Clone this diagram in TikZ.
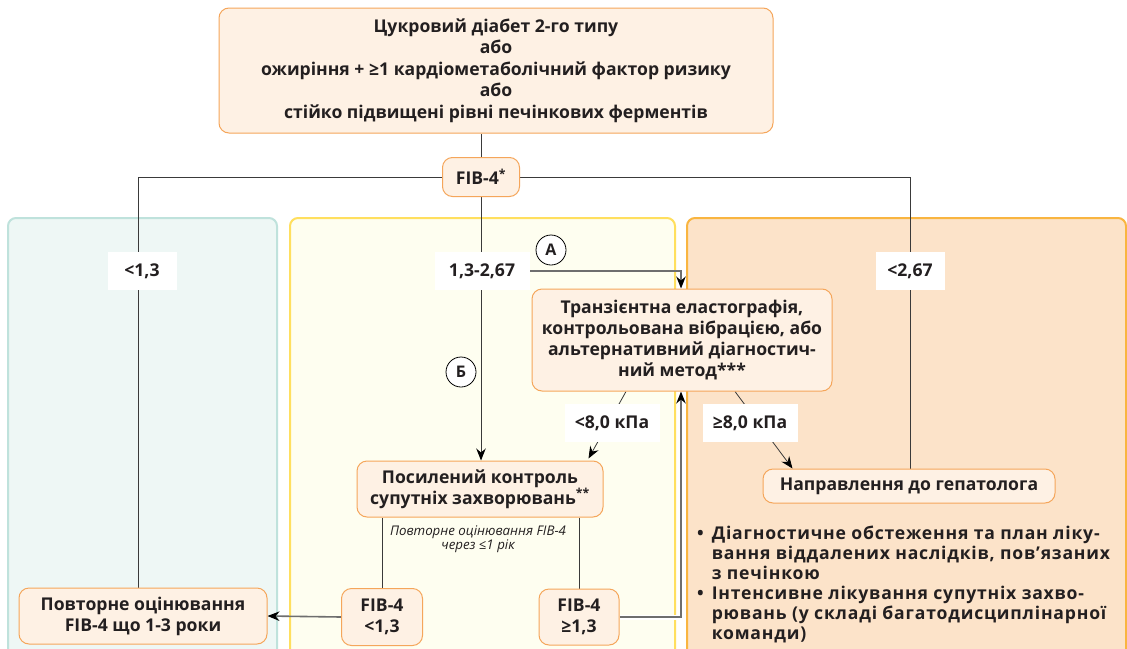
\documentclass[tikz,border=0pt]{standalone}
\usepackage{fontspec}
\setmainfont{Open Sans}
\usetikzlibrary{arrows.meta,calc}
\definecolor{txt}{HTML}{231F20}
\definecolor{peach}{HTML}{FEF1E4}
\definecolor{peachline}{HTML}{F5A65B}
\definecolor{tealfill}{HTML}{EEF7F5}
\definecolor{tealline}{HTML}{BFE2DC}
\definecolor{yelfill}{HTML}{FEFEF0}
\definecolor{yelline}{HTML}{FFDF5E}
\definecolor{orfill}{HTML}{FCE3C9}
\definecolor{orline}{HTML}{F9B540}
\definecolor{lin}{HTML}{3A3A3A}
\definecolor{glin}{HTML}{6E6E6E}
\pgfdeclarelayer{panels}
\pgfdeclarelayer{lines}
\pgfsetlayers{panels,lines,main}
\tikzset{
  box/.style={draw=peachline, fill=peach, rounded corners=10pt, line width=1pt,
    align=center, text=txt, inner sep=0pt, font=\bfseries\fontsize{17.6}{21}\selectfont},
  lab/.style={fill=white, text=txt, inner sep=0pt, font=\bfseries\fontsize{17.6}{21}\selectfont},
  circ/.style={circle, draw=black, fill=white, line width=0.8pt, minimum size=30pt, inner sep=0pt,
    text=txt, font=\bfseries\fontsize{16}{18}\selectfont},
  conn/.style={draw=lin, line width=1pt},
  gconn/.style={draw=glin, line width=1.6pt},
  arr/.style={-{Stealth[length=12pt,width=9.5pt,inset=4pt,color=black]}},
  panel/.style={rounded corners=8pt, line width=2pt}
}
\begin{document}
\begin{tikzpicture}[x=1pt,y=-1pt]
\useasboundingbox (0,0) rectangle (1127,648);
\clip (0,0) rectangle (1127,648);
% panels
\begin{pgfonlayer}{panels}
\fill[white] (0,0) rectangle (1127,648);
\draw[panel, draw=tealline, fill=tealfill] (8,218) rectangle (277,670);
\draw[panel, draw=yelline, fill=yelfill] (290,218) rectangle (675,670);
\draw[panel, draw=orline, fill=orfill] (687,218) rectangle (1126,670);
\end{pgfonlayer}
% nodes
\node[box, minimum width=554pt, minimum height=125pt, font=\bfseries\fontsize{17.6}{21.5}\selectfont] (top) at (496,70.5)
  {Цукровий діабет 2-го типу\\або\\ожиріння + ≥1 кардіометаболічний фактор ризику\\або\\стійко підвищені рівні печінкових ферментів};
\node[box, minimum width=77pt, minimum height=39pt] (fib) at (481,177) {FIB-4\textsuperscript{*}};
\node[lab, minimum width=69pt, minimum height=38pt] (lo) at (142,271) {<1,3};
\node[lab, minimum width=95pt, minimum height=38pt] (mid) at (482,271) {1,3-2,67};
\node[lab, minimum width=69pt, minimum height=38pt] (hi) at (910,271) {<2,67};
\node[circ] (A) at (551,250) {А};
\node[circ] (B) at (461,372) {Б};
\node[box, minimum width=300pt, minimum height=102pt] (elast) at (682,340)
  {Транзієнтна еластографія,\\контрольована вібрацією, або\\альтернативний діагностич-\\ний метод***};
\node[lab, minimum width=95pt, minimum height=38pt] (k1) at (612,423) {<8,0 кПа};
\node[lab, minimum width=95pt, minimum height=38pt] (k2) at (750,423) {≥8,0 кПа};
\node[box, minimum width=246pt, minimum height=56pt] (pos) at (480,489)
  {Посилений контроль\\супутніх захворювань\textsuperscript{**}};
\node[box, minimum width=292pt, minimum height=34pt] (nap) at (909,486) {Направлення до гепатолога};
\node[align=center, text=txt, font=\itshape\fontsize{13.3}{14.5}\selectfont] (rep) at (478,539)
  {Повторне оцінювання FIB-4\\через ≤1 рік};
\node[box, minimum width=81pt, minimum height=57pt] (flo) at (382,617) {FIB-4\\<1,3};
\node[box, minimum width=80pt, minimum height=56pt] (fhi) at (579,617) {FIB-4\\≥1,3};
\node[box, minimum width=248pt, minimum height=56pt] (povt) at (143,616)
  {Повторне оцінювання\\FIB-4 що 1-3 роки};
\node[anchor=north west, inner sep=0pt, text=txt, align=left,
  font=\bfseries\fontsize{17.6}{20}\selectfont\addfontfeatures{LetterSpace=4.5}] (bul) at (697,525)
  {\begin{tabular}{@{}l@{\hspace{8pt}}l@{}}
   •& Діагностичне обстеження та план ліку-\\
    & вання віддалених наслідків, пов’язаних\\
    & з печінкою\\
   •& Інтенсивне лікування супутніх захво-\\
    & рювань (у складі багатодисциплінарної\\
    & команди)
   \end{tabular}};
% connectors
\begin{pgfonlayer}{lines}
\coordinate (L) at (138,177);
\coordinate (R) at (910,177);
\coordinate (Ac) at (681,271);
\coordinate (Hc) at (681,617);
\draw[conn] (fib.north |- top.south) -- (fib.north);
\draw[conn] (fib.west) -- (L) -- (L |- povt.north);
\draw[conn] (fib.east) -- (R) -- (R |- nap.north);
\draw[conn, arr] (fib.south) -- (fib.south |- pos.north);
\draw[gconn, arr] (mid.east) -- (Ac) -- (Ac |- elast.north);
\draw[conn, line width=0.8pt, arr] ($(elast.south)+(-56,0)$) -- ($(pos.north east)+(-15,-2)$);
\draw[conn, line width=0.8pt, arr] ($(elast.south)+(53,0)$) -- ($(nap.north west)+(30,0)$);
\draw[conn] (flo.north |- pos.south) -- (flo.north);
\draw[conn] (fhi.north |- pos.south) -- (fhi.north);
\draw[gconn, arr] (flo.west) -- (povt.east);
\draw[white, line width=5pt] (fhi.east) -- (Hc) -- (Hc |- elast.south);
\draw[gconn, arr] (fhi.east) -- (Hc) -- (Hc |- elast.south);
\end{pgfonlayer}
\end{tikzpicture}
\end{document}
